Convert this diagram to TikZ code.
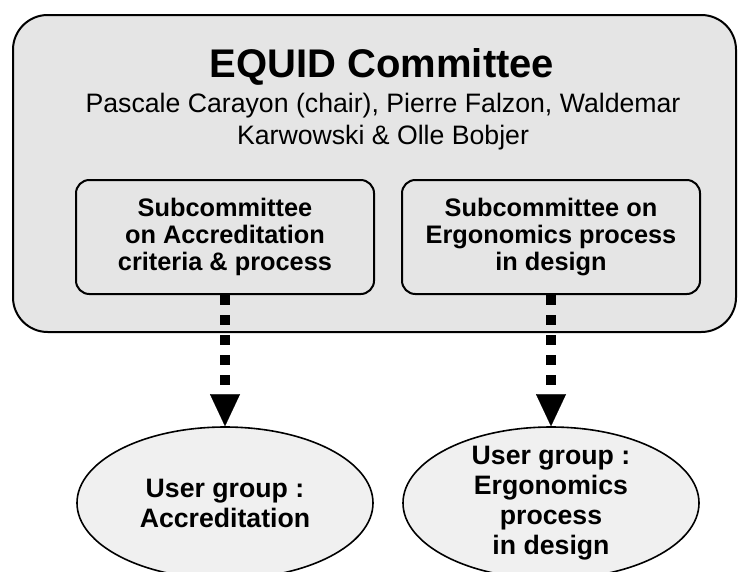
\documentclass[tikz,border=0pt]{standalone}
\usepackage{fontspec}
\setmainfont{Liberation Sans}
\usetikzlibrary{arrows.meta,shapes.geometric}

\definecolor{speckle}{gray}{0.9}
\definecolor{speckleoval}{gray}{0.94}

\tikzset{
	committee/.style={draw, line width=1.5pt, rounded corners=26pt, fill=speckle,
		minimum width=542.25pt, minimum height=237.75pt, inner sep=0pt},
	subgroup/.style={draw, line width=1.5pt, rounded corners=10pt, fill=speckle,
		minimum width=223.5pt, minimum height=85.5pt, align=center,
		font=\bfseries\fontsize{19}{20.25}\selectfont},
	usergroup/.style={draw, ellipse, line width=1.2pt, fill=speckleoval,
		minimum width=222pt, minimum height=114pt, inner sep=0pt},
	grouptext/.style={align=center, font=\bfseries\fontsize{20}{22.5}\selectfont},
	link/.style={line width=7.5pt, dash pattern=on 7.5pt off 7.5pt,
		-{Triangle[length=24pt,width=22.5pt,line width=0.1pt]}},
}

\begin{document}
\begin{tikzpicture}[x=0.75pt,y=-0.75pt]
	\useasboundingbox (0,0) rectangle (738,571);
	% committee frame with its title and members
	\node[committee] (equid) at (374.5,173.5) {};
	\node[anchor=base, font=\bfseries\fontsize{30}{36}\selectfont] (title) at (382,77) {EQUID Committee};
	\node[align=center, font=\fontsize{20}{24}\selectfont] (members) at (383,122)
		{Pascale Carayon (chair), Pierre Falzon, Waldemar\\Karwowski \& Olle Bobjer};
	% the two subcommittees
	\node[subgroup] (accsub) at (225,237) {Subcommittee\\on Accreditation\\criteria \& process};
	\node[subgroup] (ergsub) at (551,237) {Subcommittee on\\Ergonomics process\\in design};
	% user groups
	\node[usergroup] (accuser) at (225,503) {};
	\node[usergroup] (erguser) at (551,503) {};
	\node[grouptext] (acctext) at (accuser) {User group :\\Accreditation};
	\node[grouptext] (ergtext) at (erguser) {User group :\\Ergonomics\\process\\in design};
	\draw[link] (accsub.south) -- (accuser.north);
	\draw[link] (ergsub.south) -- (erguser.north);
\end{tikzpicture}
\end{document}
